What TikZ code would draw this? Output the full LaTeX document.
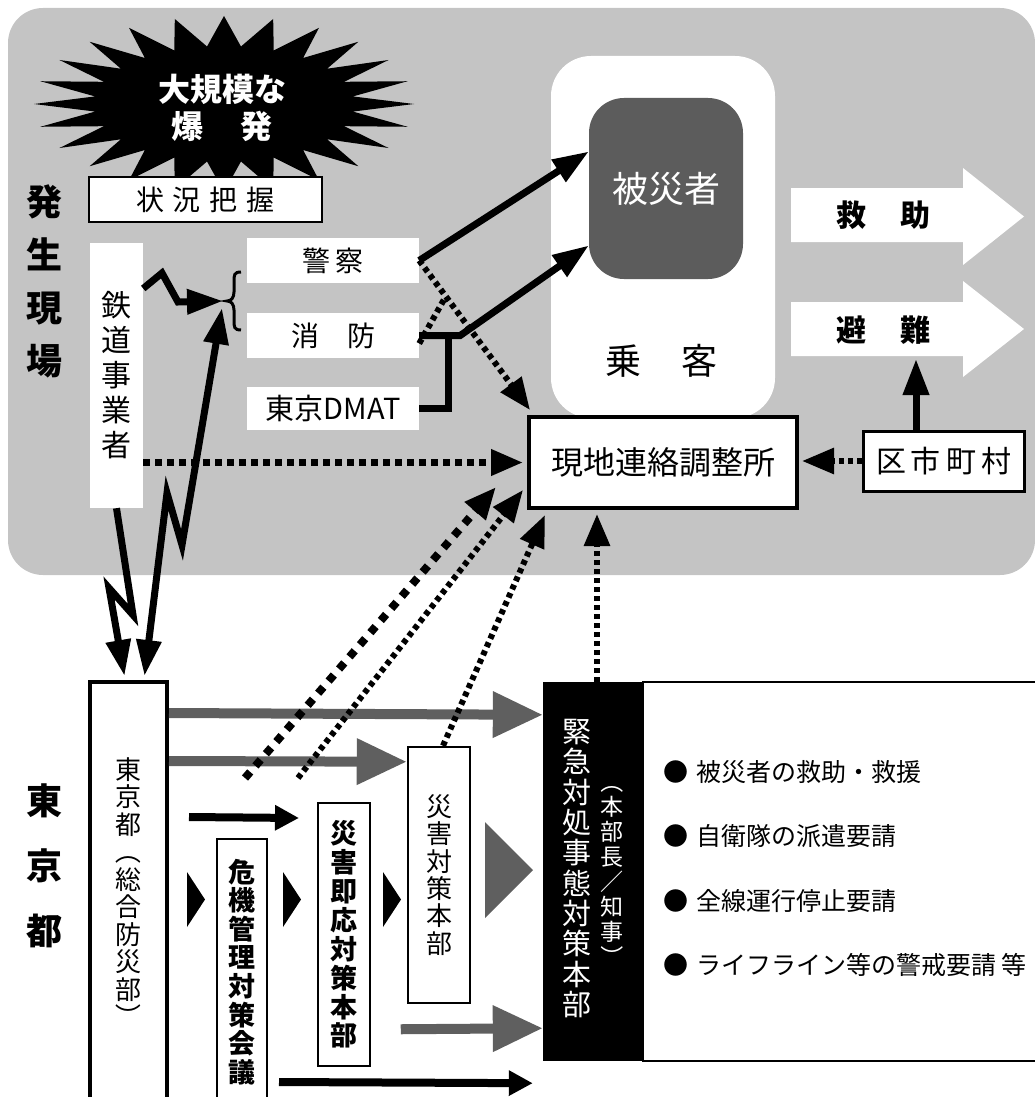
\documentclass[tikz,border=0pt]{standalone}
\usepackage{fontspec}
\usepackage{graphicx}
\setmainfont{Noto Sans CJK JP}
\usetikzlibrary{arrows.meta,calc}
\definecolor{fieldgray}{HTML}{C4C4C4}
\definecolor{victimgray}{HTML}{5C5C5C}
\definecolor{flowgray}{HTML}{5F5F5F}
\newcommand{\px}[2]{\fontsize{#1}{#2}\selectfont}
\newcommand{\vopen}{\rotatebox[origin=c]{-90}{（}}
\newcommand{\vclose}{\rotatebox[origin=c]{-90}{）}}
\tikzset{
  whitebox/.style={fill=white, inner sep=0pt, align=center},
  framedbox/.style={whitebox, draw=black, line width=2pt},
  solidarrow/.style={line width=7pt, -{Triangle[length=36pt,width=25pt]}},
  dotarrow/.style={line width=6pt, dash pattern=on 5pt off 4pt, -{Triangle[length=32pt,width=25pt]}},
  bigdotarrow/.style={line width=8pt, dash pattern=on 8pt off 8pt, -{Triangle[length=32pt,width=26pt]}},
  bolt/.style={line width=7pt, line join=miter},
  flowgrey/.style={flowgray, line width=10pt, -{Triangle[length=50pt,width=44pt]}},
  flowblack/.style={line width=8pt, -{Triangle[length=24pt,width=24pt]}},
  sidelabel/.style={font=\px{36}{53}\bfseries, align=center, inner sep=0pt}
}
\begin{document}
\begin{tikzpicture}[x=1pt, y=-1pt]
  \useasboundingbox (0,0) rectangle (1035,1097);
  % field area
  \fill[fieldgray, rounded corners=35pt] (8,8) rectangle (1035,575);
  % explosion
  \fill[black] (414,104) \foreach \k in {1,...,47}{ -- ({224+(isodd(\k) ? 130 : 190)*cos(\k*7.5)}, {104+(isodd(\k) ? 58 : 88)*sin(\k*7.5)}) } -- cycle;
  \node[font=\px{32}{37}\bfseries, text=white, align=center] (blast) at (222,108) {大規模な\\爆\hspace{38pt}発};
  \node[framedbox, minimum width=233pt, minimum height=45pt, font=\px{28}{28}] (jokyo) at (205.5,199.5) {状\hspace{9pt}況\hspace{9pt}把\hspace{9pt}握};
  \node[sidelabel] (hassei) at (45,281) {発\\生\\現\\場};

  \node[whitebox, minimum width=53pt, minimum height=265pt, font=\px{30}{35}] (tetsudo) at (116.5,375.5) {鉄\\道\\事\\業\\者};
  \node[whitebox, minimum width=172pt, minimum height=45pt, font=\px{28}{28}] (keisatsu) at (333,260.5) {警\hspace{5pt}察};
  \node[whitebox, minimum width=172pt, minimum height=45pt, font=\px{28}{28}] (shobo) at (333,335.5) {消\hspace{28pt}防};
  \node[whitebox, minimum width=172pt, minimum height=43pt, font=\px{29}{29}] (dmat) at (333,408.5) {東京DMAT};
  \coordinate (bracetip) at (227,301);
  \draw[line width=3pt] (241,272) .. controls (234,272) and (234,275) .. (234,282) -- (234,292)
    .. controls (234,298) and (231,301) .. (bracetip) .. controls (231,301) and (234,304) .. (234,310)
    -- (234,320) .. controls (234,327) and (234,330) .. (241,330);

  % passengers
  \node[fill=white, rounded corners=40pt, minimum width=224pt, minimum height=362pt] (jokyaku) at (663,237) {};
  \node[fill=victimgray, rounded corners=35pt, minimum width=154pt, minimum height=181pt, text=white, font=\px{36}{36}] (higaisha) at (666,188.5) {被災者};
  \node[font=\px{36}{36}] (jokyakutext) at (661,361) {乗\hspace{40pt}客};

  % rescue / evacuation
  \fill[white] (791,188) -- (963,188) -- (963,168) -- (1024,216.5) -- (963,265) -- (963,242) -- (791,242) -- cycle;
  \fill[white] (791,302) -- (963,302) -- (963,281) -- (1024,329) -- (963,377) -- (963,356) -- (791,356) -- cycle;
  \node[font=\px{30}{30}\bfseries] (kyujo) at (883,215) {救\hspace{34pt}助};
  \node[font=\px{30}{30}\bfseries] (hinan) at (883,330) {避\hspace{34pt}難};
  \coordinate (hinanfoot) at (916,359);

  \node[framedbox, line width=4pt, minimum width=268pt, minimum height=91pt, font=\px{32}{32}] (genchi) at (663,462.5) {現地連絡調整所};
  \node[framedbox, line width=3pt, minimum width=161pt, minimum height=60pt, font=\px{30}{30}] (kushi) at (943.5,461) {区\hspace{5pt}市\hspace{5pt}町\hspace{5pt}村};

  % field connectors
  \draw[solidarrow] (keisatsu.east) -- ([yshift=37pt]higaisha.west);
  \draw[solidarrow] (shobo.east) -- ++(41,0) -- ([yshift=-57pt]higaisha.west);
  \draw[line width=7pt] (dmat.east) -| ($(shobo.east)+(29,0)$);
  \draw[dotarrow] (keisatsu.east) -- ([xshift=3pt,yshift=5pt]genchi.north west);
  \draw[line width=6pt, dash pattern=on 5pt off 4pt] ([yshift=-8pt]shobo.east) -- ($(keisatsu.east)!0.24!(genchi.north west)$);
  \draw[dotarrow, line width=7pt, dash pattern=on 7pt off 5pt] ([yshift=-87pt]tetsudo.east) -- ([xshift=-4pt]genchi.west);
  \draw[dotarrow] (kushi.west) -- ([xshift=3pt]kushi.west -| genchi.east);
  \draw[solidarrow] (kushi.north -| hinanfoot) -- (hinanfoot);

  % radio links
  \draw[bolt, -{Triangle[length=36pt,width=24pt]}] ([yshift=87pt]tetsudo.east) -- (162,273) -- (178,302) -- ([xshift=-4pt]bracetip);

  % Tokyo
  \node[sidelabel, font=\px{36}{65}\bfseries] (tokyolabel) at (45,866) {東\\京\\都};
  \node[framedbox, line width=4pt, minimum width=77pt, minimum height=423pt, font=\px{26}{27.5}] (tokyo) at (128.5,893.5) {東\\京\\都\\\vopen\\総\\合\\防\\災\\部\\\vclose};
  \draw[bolt, {Triangle[length=36pt,width=24pt]}-{Triangle[length=36pt,width=24pt]}] ([shift={(-5pt,-7pt)}]bracetip) -- (182,545) -- (167,493) -- ([shift={(16pt,4pt)}]tokyo.north);
  \draw[bolt, -{Triangle[length=36pt,width=24pt]}] (tetsudo.south) -- (133,615) -- (109,588) -- ([shift={(-4pt,4pt)}]tokyo.north);

  \node[framedbox, minimum width=50pt, minimum height=266pt, font=\px{27}{28.6}\bfseries] (kiki) at (242,972) {危\\機\\管\\理\\対\\策\\会\\議};
  \node[framedbox, minimum width=52pt, minimum height=263pt, font=\px{27}{28.9}\bfseries] (sokuo) at (344,934.5) {災\\害\\即\\応\\対\\策\\本\\部};
  \node[framedbox, line width=2.5pt, minimum width=62pt, minimum height=256pt, font=\px{26}{27.4}] (saitai) at (439,875) {災\\害\\対\\策\\本\\部};

  \node[fill=black, minimum width=100pt, minimum height=379pt] (kinkyu) at (593,871.5) {};
  \node[text=white, font=\px{29}{30.3}, align=center, inner sep=0pt] (kinkyutitle) at (577,868.5) {緊\\急\\対\\処\\事\\態\\対\\策\\本\\部};
  \node[text=white, font=\px{23}{25}, align=center, inner sep=0pt] (kinkyuchief) at (612,869) {\vopen\\本\\部\\長\\／\\知\\事\\\vclose};
  \draw[line width=1.5pt, fill=white] (kinkyu.north east) rectangle ++(430,379);
  \foreach \txt [count=\i] in {被災者の救助・救援, 自衛隊の派遣要請, 全線運行停止要請, ライフライン等の警戒要請 等}
    \node[anchor=west, font=\px{25}{25}, inner sep=0pt] (item\i) at (663,{772+64.3*(\i-1)}) {●\hspace{8pt}\txt};

  % escalation
  \foreach \x in {187,283,383}
    \fill (\x,872) -- (\x+18,899.5) -- (\x,927) -- cycle;
  \fill[flowgray] (485,822) -- (533,870) -- (485,918) -- cycle;
  \draw[flowgrey] ([yshift=-33pt]tokyo.north east) -- ([yshift=-33pt]kinkyu.north west);
  \draw[flowgrey] ([yshift=-81pt]tokyo.north east) -- ([yshift=-16pt]saitai.north west);
  \draw[flowgrey] ([shift={(-6pt,-25pt)}]saitai.south west) -- ([yshift=33pt]kinkyu.south west);
  \draw[flowblack] ([shift={(20pt,-137pt)}]tokyo.north east) -- ([shift={(-18pt,-16pt)}]sokuo.north west);
  \draw[flowblack] ([shift={(11pt,-244pt)}]kiki.north east) -- ([shift={(-10pt,-22pt)}]kinkyu.south west);

  % reports to the field office
  \coordinate (kikireport) at (245,778);
  \coordinate (sokuoreport) at (298,778);
  \draw[bigdotarrow] (kikireport) -- ([shift={(-31pt,23pt)}]genchi.south west);
  \draw[dotarrow] (sokuoreport) -- ([shift={(-4pt,20pt)}]genchi.south west);
  \draw[dotarrow] ([xshift=4pt]saitai.north) -- ([shift={(18pt,-5pt)}]genchi.south west);
  \draw[dotarrow] ([xshift=4pt]kinkyu.north) -- ([xshift=4pt,yshift=-4pt]kinkyu.north |- genchi.south);
\end{tikzpicture}
\end{document}
